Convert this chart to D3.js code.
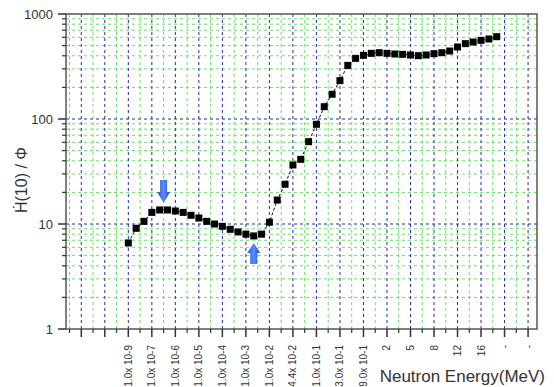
<!DOCTYPE html>
<html>
<head>
<meta charset="utf-8">
<script src="https://cdn.jsdelivr.net/npm/d3@7"></script>
<style>
  body { margin: 0; background: #fff; }
  text { font-family: Arial, "Liberation Sans", sans-serif; }
</style>
</head>
<body>
<script>
// tick labels on the category axis (one per major tick, starting at 10^-9)
var xLabels = ['1.0x 10-9', '1.0x 10-7', '1.0x 10-6', '1.0x 10-5', '1.0x 10-4', '1.0x 10-3', '1.0x 10-2',
  '4.4x 10-2', '1.0x 10-1', '3.0x 10-1', '9.0x 10-1', '2', '5', '8', '12', '16', '-', '-'];

// H*(10)/phi values, three points per labelled step
var hValues = [6.6, 9.1, 10.6, 12.9, 13.6, 13.6, 13.3, 12.9, 12.1, 11.4,
  10.6, 10.0, 9.5, 8.9, 8.4, 8.0, 7.7, 8.0, 10.4, 16.9,
  23.9, 36.5, 41.3, 60.8, 89, 131, 172, 232, 324, 378,
  404, 422, 428, 422, 416, 413, 407, 401, 407, 419,
  428, 444, 485, 522, 541, 561, 578, 608];

var yTicks = [1, 10, 100, 1000];

// arrows: point index they mark and direction
var arrows = [{ k: 4.5, dir: 'down' }, { k: 16, dir: 'up' }];

var chart = {
  width: 554,
  height: 387,
  left: 66,
  top: 14,
  right: 537,
  bottom: 329
};

var svg = d3.select('body').append('svg').attr('width', chart.width).attr('height', chart.height);

var x = d3.scaleLinear().domain([-2.65, 17.38]).range([chart.left, chart.right]);
var y = d3.scaleLog().domain([1, 1000]).range([chart.bottom, chart.top]);

var defs = svg.append('defs');
var grad = defs.append('linearGradient').attr('id', 'arrowGrad').attr('x1', 0).attr('x2', 1).attr('y1', 0).attr('y2', 0);
grad.append('stop').attr('offset', '0%').attr('stop-color', '#2b4fd8');
grad.append('stop').attr('offset', '50%').attr('stop-color', '#5a8cff');
grad.append('stop').attr('offset', '100%').attr('stop-color', '#2444c8');

// grid
var majorX = d3.range(-2, 18);
var minorX = d3.range(-2.5, 17, 1);
var minorY = [];
[1, 10, 100].forEach(function(d) {
  for (var m = 2; m <= 9; m++) minorY.push(d * m);
});

var grid = svg.append('g');
grid.selectAll('.gxm').data(minorX).enter().append('line')
  .attr('x1', function(d) { return x(d); }).attr('x2', function(d) { return x(d); })
  .attr('y1', chart.top).attr('y2', chart.bottom)
  .attr('stroke', '#6ddc6d').attr('stroke-width', 1).attr('stroke-dasharray', '3,3');
grid.selectAll('.gym').data(minorY).enter().append('line')
  .attr('x1', chart.left).attr('x2', chart.right)
  .attr('y1', function(d) { return y(d); }).attr('y2', function(d) { return y(d); })
  .attr('stroke', '#6ddc6d').attr('stroke-width', 1).attr('stroke-dasharray', '3,3');
grid.selectAll('.gxM').data(majorX).enter().append('line')
  .attr('x1', function(d) { return x(d); }).attr('x2', function(d) { return x(d); })
  .attr('y1', chart.top).attr('y2', chart.bottom)
  .attr('stroke', '#2a2a9c').attr('stroke-width', 1).attr('stroke-dasharray', '3,3');
grid.selectAll('.gyM').data([10, 100]).enter().append('line')
  .attr('x1', chart.left).attr('x2', chart.right)
  .attr('y1', function(d) { return y(d); }).attr('y2', function(d) { return y(d); })
  .attr('stroke', '#2a2a9c').attr('stroke-width', 1).attr('stroke-dasharray', '3,3');

// frame
svg.append('rect').attr('x', chart.left).attr('y', chart.top)
  .attr('width', chart.right - chart.left).attr('height', chart.bottom - chart.top)
  .attr('fill', 'none').attr('stroke', '#555').attr('stroke-width', 1.5);

// x axis ticks
var xAxis = svg.append('g');
xAxis.selectAll('.xtM').data(majorX).enter().append('line')
  .attr('x1', function(d) { return x(d); }).attr('x2', function(d) { return x(d); })
  .attr('y1', chart.bottom).attr('y2', chart.bottom + 8)
  .attr('stroke', '#333').attr('stroke-width', 1.5);
xAxis.selectAll('.xtm').data(minorX).enter().append('line')
  .attr('x1', function(d) { return x(d); }).attr('x2', function(d) { return x(d); })
  .attr('y1', chart.bottom).attr('y2', chart.bottom + 4)
  .attr('stroke', '#333').attr('stroke-width', 1.2);
xAxis.selectAll('.xl').data(xLabels).enter().append('text')
  .attr('transform', function(d, i) { return 'translate(' + x(i) + ',' + 345 + ') rotate(-90)'; })
  .attr('dy', '0.35em')
  .attr('text-anchor', 'end')
  .attr('font-size', 10)
  .attr('fill', '#333')
  .text(function(d) { return d; });

// y axis ticks
var yAxis = svg.append('g');
yAxis.selectAll('.ytM').data(yTicks).enter().append('line')
  .attr('x1', chart.left - 8).attr('x2', chart.left)
  .attr('y1', function(d) { return y(d); }).attr('y2', function(d) { return y(d); })
  .attr('stroke', '#333').attr('stroke-width', 1.5);
yAxis.selectAll('.ytm').data(minorY).enter().append('line')
  .attr('x1', chart.left - 4).attr('x2', chart.left)
  .attr('y1', function(d) { return y(d); }).attr('y2', function(d) { return y(d); })
  .attr('stroke', '#333').attr('stroke-width', 1.2);
yAxis.selectAll('.yl').data(yTicks).enter().append('text')
  .attr('x', 53).attr('y', function(d) { return y(d); })
  .attr('dy', '0.35em').attr('text-anchor', 'end')
  .attr('font-size', 13).attr('fill', '#333')
  .text(function(d) { return d; });

// axis titles
svg.append('text')
  .attr('transform', 'translate(27,180) rotate(-90)')
  .attr('text-anchor', 'middle')
  .attr('font-size', 16).attr('fill', '#333')
  .text('\u1e22(10) / \u03a6');
svg.append('text')
  .attr('x', 545).attr('y', 382)
  .attr('text-anchor', 'end')
  .attr('font-size', 17).attr('fill', '#333')
  .text('Neutron Energy(MeV)');

// data
var pts = hValues.map(function(v, k) { return { pos: k / 3, v: v }; });
var line = d3.line().x(function(d) { return x(d.pos); }).y(function(d) { return y(d.v); });
svg.append('path').datum(pts).attr('d', line)
  .attr('fill', 'none').attr('stroke', '#111').attr('stroke-width', 1).attr('stroke-dasharray', '3,2');
svg.selectAll('.pt').data(pts).enter().append('rect')
  .attr('x', function(d) { return x(d.pos) - 3.5; })
  .attr('y', function(d) { return y(d.v) - 3.5; })
  .attr('width', 7).attr('height', 7)
  .attr('fill', '#000');

// arrows
arrows.forEach(function(a) {
  var ax = x(a.k / 3);
  var val = hValues[Math.floor(a.k)];
  var p;
  if (a.dir === 'down') {
    var tip = y(val) - 7;
    p = [[ax - 3.5, tip - 23], [ax + 3.5, tip - 23], [ax + 3.5, tip - 11], [ax + 6.5, tip - 11], [ax, tip],
      [ax - 6.5, tip - 11], [ax - 3.5, tip - 11]];
  } else {
    var tipU = y(val) + 7;
    p = [[ax - 3.5, tipU + 21], [ax + 3.5, tipU + 21], [ax + 3.5, tipU + 10], [ax + 6.5, tipU + 10], [ax, tipU],
      [ax - 6.5, tipU + 10], [ax - 3.5, tipU + 10]];
  }
  svg.append('path').attr('d', d3.line()(p) + 'Z').attr('fill', 'url(#arrowGrad)');
});
</script>
</body>
</html>
